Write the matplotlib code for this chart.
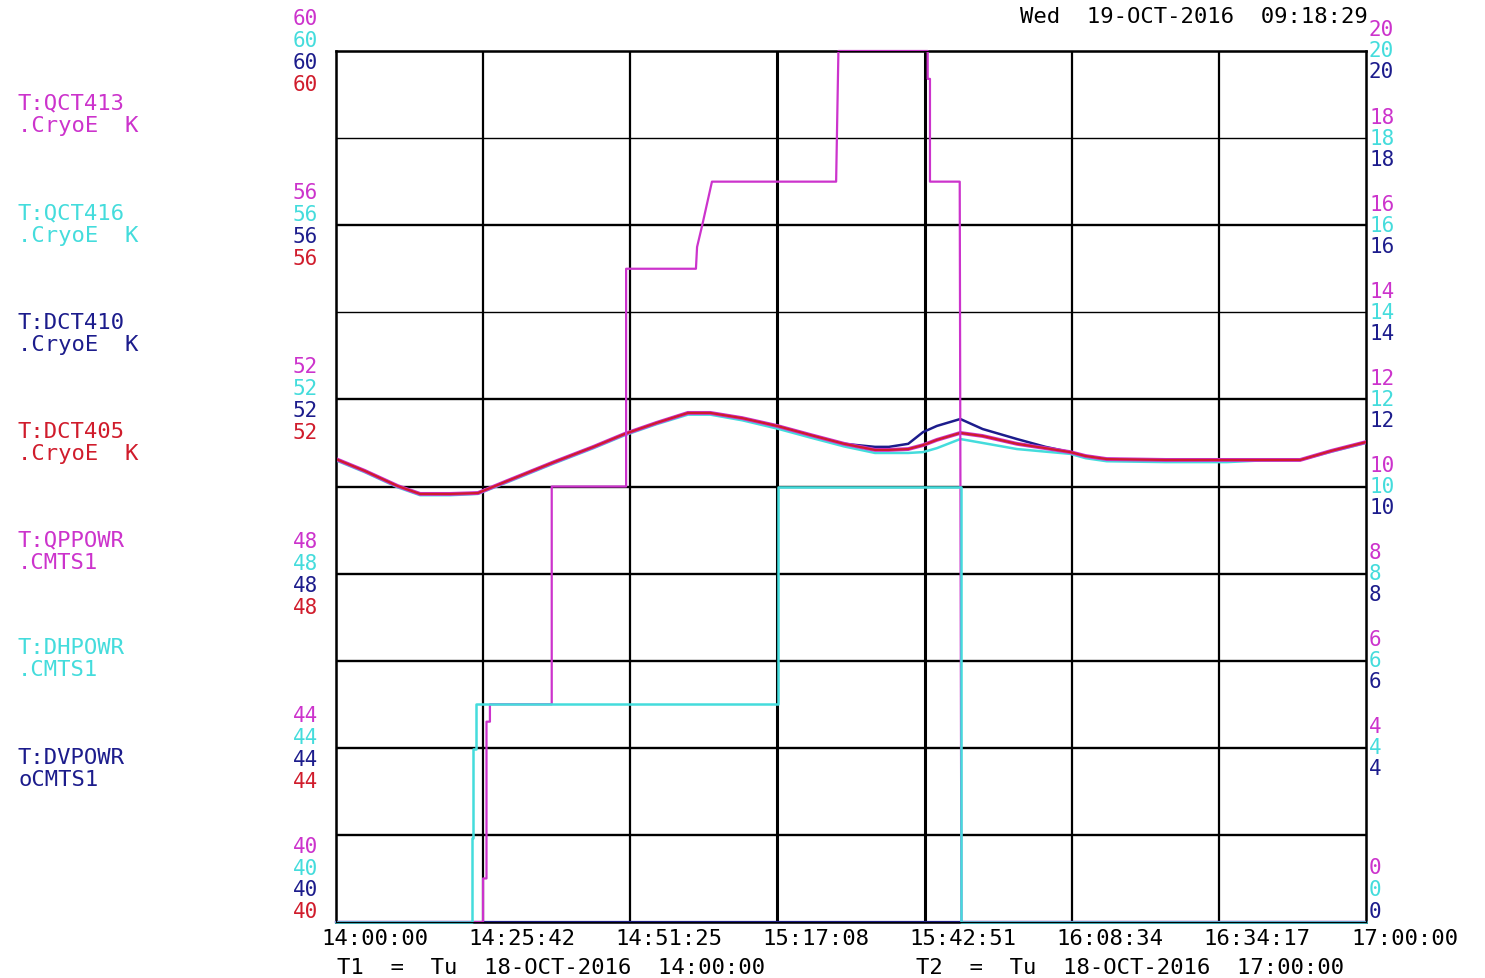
import matplotlib
matplotlib.use("Agg")
import matplotlib.pyplot as plt
from matplotlib.transforms import ScaledTranslation

plt.rcParams['font.family'] = ['DejaVu Sans Mono']

# colours of the four pens
MAG = '#cc33cc'
CYA = '#44dcdc'
NAV = '#1c1c8c'
RED = '#d01c2c'

# time axis: minutes after 14:00:00
tick_min = [0, 25.714, 51.429, 77.143, 102.857, 128.571, 154.286, 180]
tick_lab = ['14:00:00', '14:25:42', '14:51:25', '15:17:08', '15:42:51',
            '16:08:34', '16:34:17', '17:00:00']

# temperatures (K), left scale 40..60
t_temp = [0, 5, 10.8, 14.7, 20, 24.8, 30, 38.1, 45, 50.5, 56, 61.5, 65.4, 71,
          77.1, 83, 88.8, 94.2, 96.6, 100, 102.6, 105, 109.1, 113, 119, 124,
          128.3, 131, 134.7, 145, 155.7, 162, 168.5, 174, 180]
dct405 = [50.63, 50.36, 50.01, 49.83, 49.83, 49.85, 50.13, 50.56, 50.91, 51.21,
          51.46, 51.69, 51.69, 51.57, 51.39, 51.18, 50.98, 50.84, 50.84, 50.86,
          50.95, 51.07, 51.23, 51.16, 50.98, 50.88, 50.79, 50.70, 50.63, 50.61,
          50.61, 50.61, 50.61, 50.82, 51.02]
qct413 = list(dct405)
dct410 = [50.63, 50.36, 50.01, 49.83, 49.83, 49.85, 50.13, 50.56, 50.91, 51.21,
          51.46, 51.69, 51.69, 51.57, 51.39, 51.18, 50.98, 50.91, 50.91, 50.98,
          51.25, 51.39, 51.55, 51.32, 51.09, 50.91, 50.79, 50.70, 50.63, 50.61,
          50.61, 50.61, 50.61, 50.82, 51.02]
qct416 = [50.60, 50.33, 49.98, 49.80, 49.80, 49.83, 50.10, 50.53, 50.88, 51.18,
          51.43, 51.65, 51.65, 51.52, 51.33, 51.12, 50.92, 50.77, 50.77, 50.77,
          50.79, 50.88, 51.09, 51.00, 50.86, 50.80, 50.75, 50.65, 50.58, 50.56,
          50.56, 50.60, 50.61, 50.80, 51.00]

# powers, right scale 0..20 (step traces given vertex by vertex)
t_qp = [0, 25.7, 25.7, 26.3, 26.3, 26.9, 26.9, 37.7, 37.7, 50.7, 50.7, 62.9,
        63.1, 64.0, 65.7, 87.4, 87.8, 103.4, 103.4, 103.8, 103.8, 109.0, 109.3,
        180]
qppowr = [0, 0, 1.0, 1.0, 4.6, 4.6, 5.0, 5.0, 10.0, 10.0, 15.0, 15.0,
          15.5, 16.0, 17.0, 17.0, 20.0, 20.0, 19.36, 19.36, 17.0, 17.0, 0, 0]
t_dh = [0, 23.7, 23.7, 24.0, 24.0, 24.4, 24.4, 77.2, 77.2, 109.2, 109.2, 180]
dhpowr = [0, 0, 1.93, 1.93, 3.98, 3.98, 5.0, 5.0, 10.0, 10.0, 0, 0]
t_dv = [0, 180]
dvpowr = [0, 0]

left_names = ['T:QCT413\n.CryoE  K', 'T:QCT416\n.CryoE  K', 'T:DCT410\n.CryoE  K',
              'T:DCT405\n.CryoE  K', 'T:QPPOWR\n.CMTS1', 'T:DHPOWR\n.CMTS1',
              'T:DVPOWR\noCMTS1']
left_cols = [MAG, CYA, NAV, RED, MAG, CYA, NAV]
left_y = [115, 225, 334, 443, 552, 659, 769]

left_ticks = [60, 56, 52, 48, 44, 40]
right_ticks = [20, 18, 16, 14, 12, 10, 8, 6, 4, 0]

W, H = 1485, 979
fig = plt.figure(figsize=(W / 100, H / 100), dpi=100)
ax = fig.add_axes([336 / W, 1 - 923 / H, 1030 / W, 871 / H])
ax.set_xlim(0, 180)
ax.set_ylim(40, 60)

# grid
for i, x in enumerate(tick_min[1:-1]):
    ax.axvline(x, color='k', lw=2.2 if i in (2, 3) else 1.6, zorder=1)
for y in range(42, 60, 2):
    ax.axhline(y, color='k', lw=1.0 if y in (54, 58) else 1.7, zorder=1)
for s in ax.spines.values():
    s.set_linewidth(1.8)

ax.plot(t_temp, qct416, color=CYA, lw=1.8, zorder=3)
ax.plot(t_temp, dct410, color=NAV, lw=1.8, zorder=3)
ax.plot(t_temp, qct413, color=MAG, lw=2.8, zorder=4)
ax.plot(t_temp, dct405, color=RED, lw=1.6, zorder=5)

ax.set_yticks([])
ax.set_xticks(tick_min)
ax.set_xticklabels(tick_lab, ha='left', fontsize=16)
ax.tick_params(axis='x', length=0, pad=4)
for lab in ax.get_xticklabels():
    lab.set_transform(lab.get_transform() + ScaledTranslation(-0.15, 0, fig.dpi_scale_trans))

ax2 = ax.twinx()
ax2.set_ylim(0, 20)
ax2.set_yticks([])
ax2.plot(t_dv, dvpowr, color=NAV, lw=1.6, clip_on=False)
ax2.plot(t_qp, qppowr, color=MAG, lw=1.6, clip_on=False)
ax2.plot(t_dh, dhpowr, color=CYA, lw=1.8, clip_on=False)

# stacked coloured scale labels, left side
for v in left_ticks:
    offs = [76, 54, 33, 11] if v == 40 else [33, 11, -11, -33]
    for c, dy in zip([MAG, CYA, NAV, RED], offs):
        ax.annotate(str(v), (0, v), xycoords=ax.get_yaxis_transform(),
                    xytext=(-18, dy), textcoords='offset pixels',
                    ha='right', va='center', color=c, fontsize=15)

# right side
for v in right_ticks:
    offs = [55, 33, 11] if v == 0 else [21.5, 0.5, -20.5]
    for c, dy in zip([MAG, CYA, NAV], offs):
        ax2.annotate(str(v), (1, v), xycoords=ax2.get_yaxis_transform(),
                     xytext=(3, dy), textcoords='offset pixels',
                     ha='left', va='center', color=c, fontsize=15)

for name, c, y in zip(left_names, left_cols, left_y):
    fig.text(18 / W, 1 - y / H, name, color=c, fontsize=16, ha='left',
             va='center', linespacing=1.15)

fig.text(1368 / W, 1 - 17 / H, 'Wed  19-OCT-2016  09:18:29', ha='right',
         va='center', fontsize=16)
fig.text(337 / W, 1 - 968 / H, 'T1  =  Tu  18-OCT-2016  14:00:00', ha='left',
         va='center', fontsize=16)
fig.text(916 / W, 1 - 968 / H, 'T2  =  Tu  18-OCT-2016  17:00:00', ha='left',
         va='center', fontsize=16)

fig.savefig('out.png', dpi=100, facecolor='white')
